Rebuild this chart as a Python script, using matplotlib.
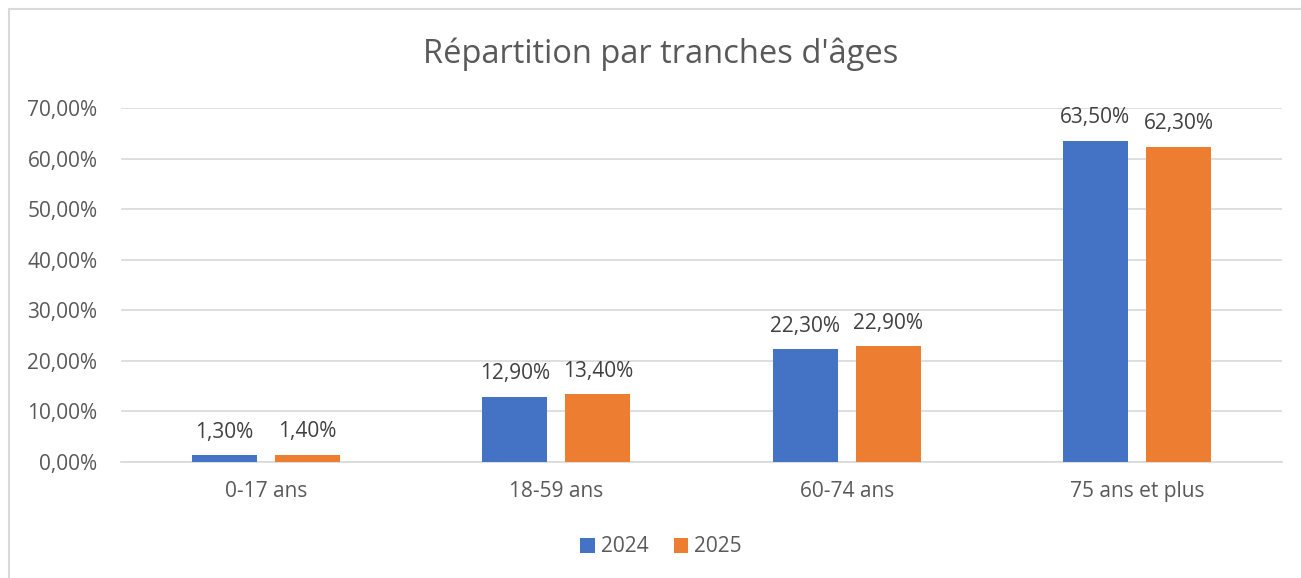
import matplotlib.pyplot as plt
import numpy as np
from matplotlib.patches import Rectangle

categories = ["0-17 ans", "18-59 ans", "60-74 ans", "75 ans et plus"]
years = ["2024", "2025"]
values_2024 = [1.30, 12.90, 22.30, 63.50]
values_2025 = [1.40, 13.40, 22.90, 62.30]
yticks = [0, 10, 20, 30, 40, 50, 60, 70]

blue = "#4472C4"
orange = "#ED7D31"
text_gray = "#595959"
label_gray = "#404040"
grid_gray = "#D9D9D9"

plt.rcParams["font.family"] = ["Open Sans", "DejaVu Sans"]


def pct(v):
    # french style: comma decimal
    return f"{v:.2f}".replace(".", ",") + "%"


fig = plt.figure(figsize=(13.01, 5.78), dpi=100)
ax = fig.add_axes([121 / 1301, 1 - 462 / 578, 1161 / 1301, 354 / 578])

# chart border (only left/top visible in the reference)
fig.patches.append(Rectangle((9 / 1301, -0.1), 1.2, 1 - 9 / 578 + 0.1,
                             transform=fig.transFigure, fill=False,
                             edgecolor=grid_gray, linewidth=1.5))

x = np.arange(len(categories))
width = 0.224
offset = 0.143
bars1 = ax.bar(x - offset, values_2024, width, color=blue, label=years[0], zorder=3)
bars2 = ax.bar(x + offset, values_2025, width, color=orange, label=years[1], zorder=3)

for bars, vals in [(bars1, values_2024), (bars2, values_2025)]:
    for b, v in zip(bars, vals):
        ax.annotate(pct(v), (b.get_x() + b.get_width() / 2, v),
                    xytext=(0, 9), textcoords="offset points",
                    ha="center", va="bottom", fontsize=15, color=label_gray)

ax.set_xlim(-0.5, len(categories) - 0.5)
ax.set_ylim(0, 70)
ax.set_yticks(yticks)
ax.set_yticklabels([pct(t) for t in yticks])
ax.set_xticks(x)
ax.set_xticklabels(categories)
ax.tick_params(axis="both", length=0, labelsize=15, labelcolor=text_gray)
ax.tick_params(axis="y", pad=17)
ax.tick_params(axis="x", pad=14)
ax.grid(axis="y", color=grid_gray, linewidth=1.2, zorder=0)
for s in ["top", "right", "left"]:
    ax.spines[s].set_visible(False)
ax.spines["bottom"].set_color(grid_gray)
ax.spines["bottom"].set_linewidth(1.2)

fig.text(661 / 1301, 1 - 54 / 578, "Répartition par tranches d'âges",
         ha="center", va="center", fontsize=23.5, color=text_gray)

fig.legend(loc="center", bbox_to_anchor=(661 / 1301, 1 - 547 / 578), ncol=2,
           frameon=False, fontsize=15, labelcolor=text_gray,
           handlelength=0.7, handleheight=0.7, handletextpad=0.3, columnspacing=1.2)

fig.savefig("out.png", dpi=100)
